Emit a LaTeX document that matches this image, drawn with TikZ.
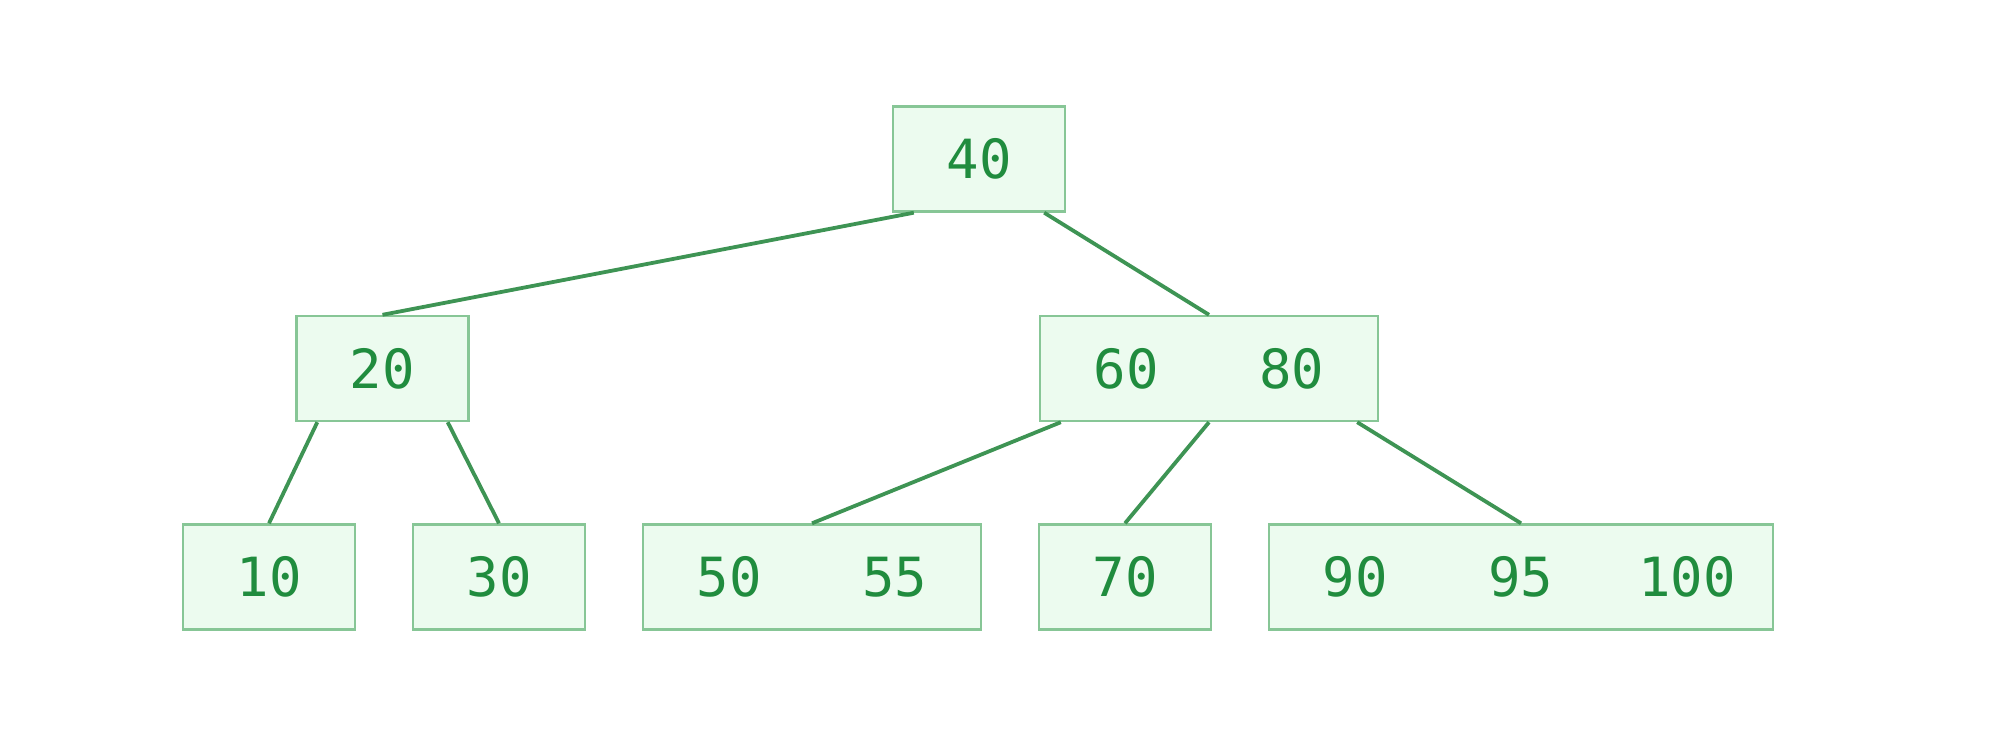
\documentclass[tikz,border=0pt]{standalone}
\usepackage{fontspec}
\newfontfamily\keyfont{DejaVu Sans Mono}
\usepackage{tikz}

\definecolor{keyfill}{RGB}{236,251,239}
\definecolor{keydraw}{RGB}{135,198,150}
\definecolor{keytext}{RGB}{32,140,62}
\definecolor{keyline}{RGB}{62,148,84}

\newcommand{\key}[1]{\makebox[83pt]{#1}}

\begin{document}
\begin{tikzpicture}[x=0.5pt,y=-0.5pt,
  keybox/.style={draw=keydraw,fill=keyfill,line width=1.2pt,
    minimum height=52.5pt,inner xsep=1.5pt,inner ysep=0pt,
    text=keytext,font=\keyfont\fontsize{27}{30}\selectfont},
  link/.style={draw=keyline,line width=1.9pt}]
  \useasboundingbox (0,0) rectangle (2000,733);

  % root
  \node[keybox] (k40) at (979,159) {\key{40}};

  % second level
  \node[keybox] (k20) at (382.5,368.5) {\key{20}};
  \node[keybox] (k6080) at (1209,368.5) {\key{60}\key{80}};

  % leaves
  \node[keybox] (k10) at (269,577) {\key{10}};
  \node[keybox] (k30) at (499,577) {\key{30}};
  \node[keybox] (k5055) at (812,577) {\key{50}\key{55}};
  \node[keybox] (k70) at (1125,577) {\key{70}};
  \node[keybox] (k9095) at (1521,577) {\key{90}\key{95}\key{100}};

  \draw[link] ([xshift=11pt]k40.south west) -- (k20.north);
  \draw[link] ([xshift=-11pt]k40.south east) -- (k6080.north);
  \draw[link] ([xshift=11pt]k20.south west) -- (k10.north);
  \draw[link] ([xshift=-11pt]k20.south east) -- (k30.north);
  \draw[link] ([xshift=11pt]k6080.south west) -- (k5055.north);
  \draw[link] (k6080.south) -- (k70.north);
  \draw[link] ([xshift=-11pt]k6080.south east) -- (k9095.north);
\end{tikzpicture}
\end{document}
